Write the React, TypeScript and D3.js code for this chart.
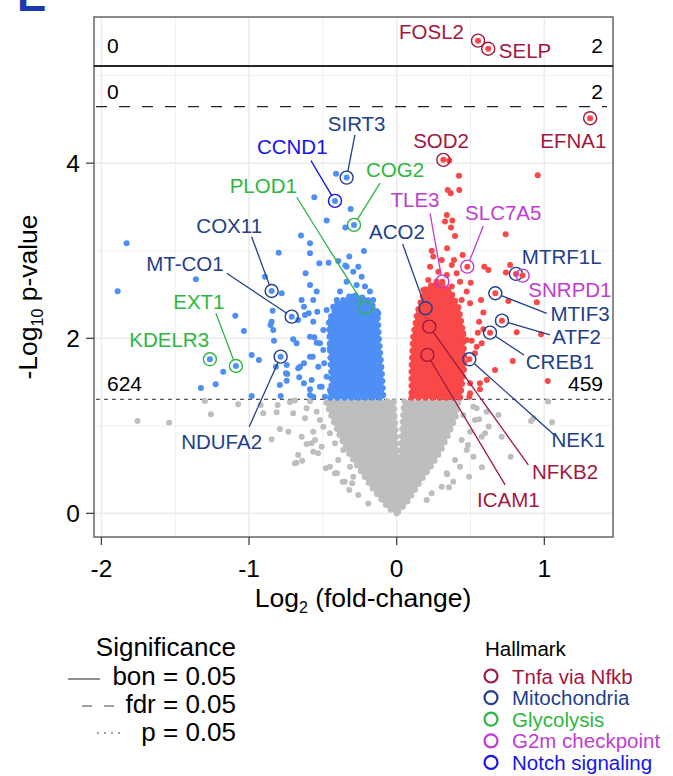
import * as d3 from "d3";

const FONT = "'Liberation Sans', Arial, Helvetica, sans-serif";

// hallmark gene sets
const hallmarks = ["Tnfa via Nfkb", "Mitochondria", "Glycolysis", "G2m checkpoint", "Notch signaling"];
const hallmarkColors = ["#A3173E", "#223F8C", "#2DB742", "#C03CD2", "#1414EE"];

const xTicks = [-2, -1, 0, 1];
const xMinor = [-1.5, -0.5, 0.5];
const yTicks = [0, 2, 4];
const yMinor = [1, 3, 5];

// -log10 thresholds
const pLine = 1.301;
const fdrLine = 4.645;
const bonLine = 5.11;
const countsP = [624, 459];
const countsFdr = [0, 2];
const countsBon = [0, 2];

// labelled genes: log2 fc, -log10 p, hallmark index
const genes = ["FOSL2", "SELP", "EFNA1", "SOD2", "SIRT3", "CCND1", "COG2", "PLOD1", "COX11", "MT-CO1", "EXT1", "KDELR3", "NDUFA2", "ACO2", "TLE3", "SLC7A5", "MTRF1L", "SNRPD1", "MTIF3", "ATF2", "CREB1", "NEK1", "NFKB2", "ICAM1"];
const geneFc = [0.551, 0.62, 1.31, 0.316, -0.339, -0.418, -0.289, -0.21, -0.847, -0.711, -1.089, -1.265, -0.786, 0.196, 0.309, 0.478, 0.808, 0.853, 0.668, 0.713, 0.632, 0.492, 0.221, 0.208];
const genePv = [5.415, 5.318, 4.514, 4.038, 3.835, 3.569, 3.295, 2.35, 2.54, 2.247, 1.683, 1.76, 1.79, 2.343, 2.647, 2.818, 2.735, 2.716, 2.514, 2.201, 2.064, 1.76, 2.133, 1.81];
const geneSet = [0, 0, 0, 0, 1, 4, 2, 2, 1, 1, 2, 2, 1, 1, 3, 3, 1, 3, 1, 1, 1, 1, 0, 0];

// label placement (pixel offsets from the point): text centre, leader end
const labelDx = [-46.5, 36.8, -16.7, -2.3, 10, -42.7, 41, -102.4, -42.4, -106.7, -37, -40.7, -59, -28.7, -27.3, 36, 45.7, 47.3, 84.7, 74.7, 70, 109, 135.7, 81];
const labelDy = [-9, 1.3, 22.4, -19.3, -53.7, -54.3, -55, -121.7, -65.3, -53.4, -65, -19.3, 85, -76.6, -81.7, -54, -17.3, 14.3, 20, 16, 29, 80.7, 145, 145];
const leaderDx = [null, null, null, null, 8.3, -24, 26, -69, -20, -65, -20, null, -31.4, -23, -12.3, 16, null, null, 51.4, 48, 34, 85, 99, 77.7];
const leaderDy = [null, null, null, null, -42.7, -40.3, -41.7, -110.4, -54.3, -43.4, -52.7, null, 70, -64.3, -68.4, -40.7, null, null, 20, 14.3, 22.3, 75.7, 138.3, 130];

// dense cores of the cloud, outlines as [log2 fc, -log10 p]
const grayCore: [number, number][] = [
  [0.0, 0.0], [-0.05, 0.05], [-0.1, 0.15], [-0.17, 0.3], [-0.25, 0.5], [-0.33, 0.7], [-0.39, 0.9], [-0.44, 1.1], [-0.48, 1.28],
  [-0.02, 1.28], [0.015, 0.4], [0.05, 1.28],
  [0.42, 1.28], [0.4, 1.1], [0.35, 0.9], [0.3, 0.72], [0.23, 0.53], [0.15, 0.34], [0.08, 0.15], [0.03, 0.05],
];
const blueCore: [number, number][] = [
  [-0.45, 1.32], [-0.09, 1.32], [-0.1, 1.6], [-0.12, 2.0], [-0.13, 2.3], [-0.2, 2.45], [-0.3, 2.5], [-0.4, 2.4],
  [-0.46, 2.2], [-0.45, 1.8], [-0.44, 1.5],
];
const redCore: [number, number][] = [
  [0.1, 1.32], [0.43, 1.32], [0.46, 1.7], [0.45, 2.06], [0.42, 2.35], [0.36, 2.55], [0.27, 2.65], [0.19, 2.55],
  [0.14, 2.3], [0.11, 2.0], [0.1, 1.65],
];

// scattered points outside the cores
const grayPoints: [number, number][] = [
  [-1.755, 1.055], [-1.541, 1.035], [-1.258, 1.131], [-1.299, 1.283], [-1.073, 1.246], [-0.904, 1.143], [-0.813, 1.154],
  [-0.806, 1.238], [-0.723, 1.269], [-0.689, 1.29], [-0.921, 1.238], [-0.847, 0.846], [-0.791, 0.963], [-0.734, 0.933],
  [-0.701, 1.143], [-0.644, 0.876], [-0.61, 0.792], [-0.621, 1.086], [-0.61, 1.2], [-0.565, 0.933], [-0.553, 0.838],
  [-0.667, 0.666], [-0.689, 0.571], [-0.64, 0.601], [-0.565, 0.704], [-0.508, 0.761], [-0.497, 0.99], [-0.52, 1.066],
  [-0.542, 1.161], [-0.587, 1.28], [-0.44, 1.181], [-0.418, 0.457], [-0.452, 0.533], [-0.396, 0.609], [-0.366, 0.361],
  [-0.321, 0.266], [-0.294, 0.418], [-0.26, 0.209], [-0.192, 0.114], [-0.316, 0.533], [-0.418, 0.8], [-0.452, 0.914],
  [-0.362, 0.723], [-0.68, 0.578], [-0.577, 0.8], [-0.532, 0.686], [-0.48, 0.514], [-0.404, 0.457], [-0.352, 0.361],
  [-0.301, 0.343],
  [0.52, 1.219], [0.559, 1.074], [0.623, 0.991], [0.598, 0.914], [0.483, 0.781], [0.52, 0.648], [0.577, 0.526],
  [0.49, 0.419], [0.772, 0.648], [0.91, 1.055], [1.052, 1.04], [1.026, 1.277], [0.354, 0.297], [0.342, 0.446],
  [0.926, 1.086], [0.689, 1.123], [0.61, 1.161], [0.542, 1.2], [0.53, 1.066], [0.576, 0.876], [0.497, 0.933],
  [0.44, 0.838], [0.474, 0.723], [0.395, 0.609], [0.429, 0.533], [0.339, 0.457], [0.383, 0.361], [0.305, 0.304],
  [0.237, 0.229], [0.203, 0.152], [0.451, 1.123], [0.711, 0.876],
];
const bluePoints: [number, number][] = [
  [-0.411, 3.878], [-0.558, 3.611], [-0.474, 3.344], [-0.312, 3.478], [-0.348, 3.264], [-0.648, 3.173], [-0.587, 3.086],
  [-1.829, 3.086], [-0.799, 2.978], [-0.587, 2.971], [-0.222, 2.998], [-1.89, 2.537], [-1.36, 2.674], [-0.892, 2.704],
  [-0.617, 2.743], [-0.587, 2.609], [-0.524, 2.857], [-0.461, 2.864], [-0.396, 2.883], [-0.339, 2.818], [-0.84, 2.315],
  [-1.093, 2.258], [-0.847, 2.19], [-1.035, 2.083], [-0.701, 1.989], [-0.836, 2.095], [-0.644, 2.438], [-0.565, 2.438],
  [-0.596, 2.286], [-0.667, 2.209], [-0.982, 1.809], [-0.933, 1.752], [-1.175, 1.618], [-1.226, 1.474], [-1.326, 1.432],
  [-0.982, 1.341], [-0.791, 1.467], [-0.786, 1.341], [-0.741, 1.592], [-0.655, 1.675], [-0.587, 1.79], [-0.576, 1.523],
  [-0.587, 1.352], [-0.52, 1.447], [-0.779, 2.514], [-0.542, 2.533], [-0.565, 2.19], [-0.497, 2.095], [-0.52, 1.943],
  [-0.452, 1.886], [-0.587, 2.018], [-0.538, 2.304], [-0.831, 1.973], [-0.854, 2.152], [-0.678, 1.943], [-0.818, 1.675],
  [-0.745, 1.695], [-0.75, 1.6], [-0.745, 1.515], [-0.667, 1.657], [-0.628, 1.714], [-0.66, 1.554], [-0.628, 1.486],
  [-0.587, 1.417], [-0.565, 1.333], [-0.621, 2.266], [-0.628, 2.361], [-0.558, 2.011], [-0.542, 1.95], [-0.497, 1.866],
  [-0.569, 1.79], [-0.531, 1.675], [-0.491, 1.714], [-0.474, 1.561], [-0.508, 1.447], [-0.452, 1.409], [-0.486, 1.333],
  [-0.44, 2.057], [-0.445, 2.209], [-0.474, 2.323],
  [-0.348, 2.83], [-0.294, 2.761], [-0.237, 2.704], [-0.271, 2.609], [-0.215, 2.59], [-0.181, 2.533], [-0.339, 2.647],
  [-0.384, 2.533], [-0.406, 2.438], [-0.43, 2.361], [-0.305, 2.438], [-0.249, 2.438], [-0.159, 2.438], [-0.125, 2.286],
  [-0.26, 2.818], [-0.321, 2.933],
];
const redPoints: [number, number][] = [
  [0.356, 4.03], [0.422, 3.855], [0.955, 3.863], [0.346, 3.695], [0.366, 3.657], [0.424, 3.695], [0.339, 3.409],
  [0.327, 3.333], [0.377, 3.344], [0.368, 3.264], [0.395, 3.169], [0.738, 3.189], [0.341, 3.029], [0.237, 3.001],
  [0.388, 2.895], [0.447, 2.952], [0.593, 2.818], [0.621, 2.781], [0.768, 2.838], [0.74, 2.75], [0.501, 2.635],
  [0.571, 2.438], [0.497, 2.4], [0.587, 2.293], [0.756, 2.426], [0.949, 2.411], [0.813, 2.069], [0.978, 2.046],
  [0.558, 2.19], [0.542, 1.904], [0.53, 1.829], [0.786, 1.741], [0.564, 1.486], [0.497, 1.371], [1.023, 1.512],
  [0.451, 2.057], [0.474, 1.981], [0.666, 1.638], [0.61, 1.523], [0.564, 1.417], [0.497, 1.486], [0.451, 1.646],
  [0.576, 1.943], [0.508, 1.973], [0.429, 1.409], [0.492, 1.333], [0.587, 2.103], [0.549, 2.064],
  [0.248, 2.933], [0.305, 2.895], [0.373, 2.838], [0.226, 2.818], [0.282, 2.761], [0.339, 2.724], [0.406, 2.743],
  [0.214, 2.667], [0.429, 2.647], [0.373, 2.59], [0.474, 2.533], [0.18, 2.552], [0.44, 2.438],
];

const GRAY = "#BEBEBE";
const BLUE = "#4D8FF5";
const RED = "#F94848";
const R = 3;

export default function App() {
  const left = 94, right = 613, top = 17, mid = 66, bottom = 537;
  const x = d3.scaleLinear().domain([-2.05, 1.465]).range([left, right]);
  const y = d3.scaleLinear().domain([-0.27, bonLine]).range([bottom, mid]);
  const yTop = d3.scaleLinear().domain([bonLine, 5.7]).range([mid, top]);

  const outline = d3
    .line<[number, number]>()
    .x((d) => x(d[0]))
    .y((d) => y(d[1]))
    .curve(d3.curveLinearClosed);

  const gx = (i: number) => x(geneFc[i]);
  const gy = (i: number) => (genePv[i] > bonLine ? yTop(genePv[i]) : y(genePv[i]));

  const ringR = 6.5;
  const legendRows = [685, 713, 741];

  // a dense core: filled outline with a beaded rim of dots
  const core = (pts: [number, number][], col: string) => (
    <g>
      <path d={outline(pts) ?? ""} fill={col} stroke={col} strokeWidth={2} strokeLinejoin="round" />
      <path d={outline(pts) ?? ""} fill="none" stroke={col} strokeWidth={2 * R} strokeLinecap="round" strokeDasharray="0,7" />
    </g>
  );

  return (
    <div style={{ position: "absolute", left: 0, top: 0 }}>
      <svg width={673} height={776} style={{ display: "block", background: "#fff" }} fontFamily={FONT}>
        {/* cropped panel letter */}
        <text x={17} y={11} fontSize={44} fontWeight="bold" fill="#1A3AB0">E</text>

        {/* grid */}
        <g stroke="#EBEBEB">
          {xMinor.map((t) => (
            <line key={"xm" + t} x1={x(t)} x2={x(t)} y1={top} y2={bottom} strokeWidth={0.8} />
          ))}
          {xTicks.map((t) => (
            <line key={"xt" + t} x1={x(t)} x2={x(t)} y1={top} y2={bottom} strokeWidth={1.5} />
          ))}
          {yMinor.map((t) => (
            <line key={"ym" + t} x1={left} x2={right} y1={y(t)} y2={y(t)} strokeWidth={0.8} />
          ))}
          {yTicks.map((t) => (
            <line key={"yt" + t} x1={left} x2={right} y1={y(t)} y2={y(t)} strokeWidth={1.5} />
          ))}
        </g>

        {/* p threshold */}
        <line x1={left + 2} x2={right - 2} y1={y(pLine)} y2={y(pLine)} stroke="#555" strokeWidth={1.3} strokeDasharray="4,4" />

        {/* cloud */}
        {core(grayCore, GRAY)}
        {grayPoints.map((d, i) => (
          <circle key={"g" + i} cx={x(d[0])} cy={y(d[1])} r={R} fill={GRAY} />
        ))}
        {core(blueCore, BLUE)}
        {core(redCore, RED)}
        {bluePoints.map((d, i) => (
          <circle key={"b" + i} cx={x(d[0])} cy={y(d[1])} r={R} fill={BLUE} />
        ))}
        {redPoints.map((d, i) => (
          <circle key={"r" + i} cx={x(d[0])} cy={y(d[1])} r={R} fill={RED} />
        ))}

        {/* fdr threshold */}
        <line x1={left + 2} x2={right - 6} y1={y(fdrLine)} y2={y(fdrLine)} stroke="#222" strokeWidth={1.3} strokeDasharray="11,12" />

        {/* labelled genes */}
        {genes.map((g, i) => {
          const px = gx(i), py = gy(i);
          const col = hallmarkColors[geneSet[i]];
          const lx = leaderDx[i], ly = leaderDy[i];
          let lead = null;
          if (lx !== null && ly !== null) {
            const len = Math.hypot(lx, ly);
            lead = (
              <line x1={px + (lx / len) * ringR} y1={py + (ly / len) * ringR} x2={px + lx} y2={py + ly} stroke={col} strokeWidth={1.3} />
            );
          }
          return (
            <g key={g}>
              <circle cx={px} cy={py} r={R} fill={geneFc[i] > 0 ? RED : BLUE} />
              <circle cx={px} cy={py} r={ringR} fill="none" stroke={col} strokeWidth={1.4} />
              {lead}
              <text x={px + labelDx[i]} y={py + labelDy[i]} fontSize={20.5} fill={col} textAnchor="middle" dominantBaseline="central">
                {g}
              </text>
            </g>
          );
        })}

        {/* counts */}
        <g fontSize={21} fill="#000">
          <text x={107} y={y(pLine) - 8}>{countsP[0]}</text>
          <text x={603} y={y(pLine) - 8} textAnchor="end">{countsP[1]}</text>
          <text x={107} y={y(fdrLine) - 8}>{countsFdr[0]}</text>
          <text x={603} y={y(fdrLine) - 8} textAnchor="end">{countsFdr[1]}</text>
          <text x={107} y={mid - 13}>{countsBon[0]}</text>
          <text x={603} y={mid - 13} textAnchor="end">{countsBon[1]}</text>
        </g>

        {/* panel frames */}
        <rect x={left} y={top} width={right - left} height={mid - top} fill="none" stroke="#666" strokeWidth={1.5} />
        <rect x={left} y={mid} width={right - left} height={bottom - mid} fill="none" stroke="#666" strokeWidth={1.5} />
        <line x1={left} x2={right} y1={mid} y2={mid} stroke="#111" strokeWidth={1.5} />

        {/* axes */}
        <g stroke="#444" strokeWidth={1.3}>
          {xTicks.map((t) => (
            <line key={"xa" + t} x1={x(t)} x2={x(t)} y1={bottom} y2={bottom + 8} />
          ))}
          {yTicks.map((t) => (
            <line key={"ya" + t} x1={left - 8} x2={left} y1={y(t)} y2={y(t)} />
          ))}
        </g>
        <g fontSize={24.5} fill="#000">
          {xTicks.map((t) => (
            <text key={"xl" + t} x={x(t)} y={577} textAnchor="middle">{t}</text>
          ))}
          {yTicks.map((t) => (
            <text key={"yl" + t} x={80} y={y(t)} textAnchor="end" dominantBaseline="central">{t}</text>
          ))}
        </g>
        <g fontSize={26.5} fill="#000">
          <text x={363} y={607} textAnchor="middle">
            Log<tspan fontSize={16} dy={6}>2</tspan>
            <tspan dy={-6}> (fold-change)</tspan>
          </text>
          <text transform="translate(37,297) rotate(-90)" textAnchor="middle">
            -Log<tspan fontSize={16} dy={6}>10</tspan>
            <tspan dy={-6}> p-value</tspan>
          </text>
        </g>

        {/* significance legend */}
        <g fontSize={26} fill="#000">
          <text x={236} y={656} textAnchor="end">Significance</text>
          <text x={236} y={legendRows[0]} textAnchor="end">bon = 0.05</text>
          <text x={236} y={legendRows[1]} textAnchor="end">fdr = 0.05</text>
          <text x={236} y={legendRows[2]} textAnchor="end">p = 0.05</text>
        </g>
        <line x1={68} x2={100} y1={legendRows[0] - 6} y2={legendRows[0] - 6} stroke="#444" strokeWidth={1.2} />
        <line x1={82} x2={114} y1={legendRows[1] - 7} y2={legendRows[1] - 7} stroke="#444" strokeWidth={1.2} strokeDasharray="10,12" />
        <line x1={97} x2={125} y1={legendRows[2] - 8} y2={legendRows[2] - 8} stroke="#444" strokeWidth={1.2} strokeDasharray="2,5" />

        {/* hallmark legend */}
        <text x={485} y={656} fontSize={20.5} fill="#000">Hallmark</text>
        {hallmarks.map((h, i) => (
          <g key={h}>
            <circle cx={491} cy={676 + i * 21.6} r={6.5} fill="none" stroke={hallmarkColors[i]} strokeWidth={2.2} />
            <text x={512} y={676 + i * 21.6} fontSize={20.5} fill={hallmarkColors[i]} dominantBaseline="central">{h}</text>
          </g>
        ))}
      </svg>
    </div>
  );
}
